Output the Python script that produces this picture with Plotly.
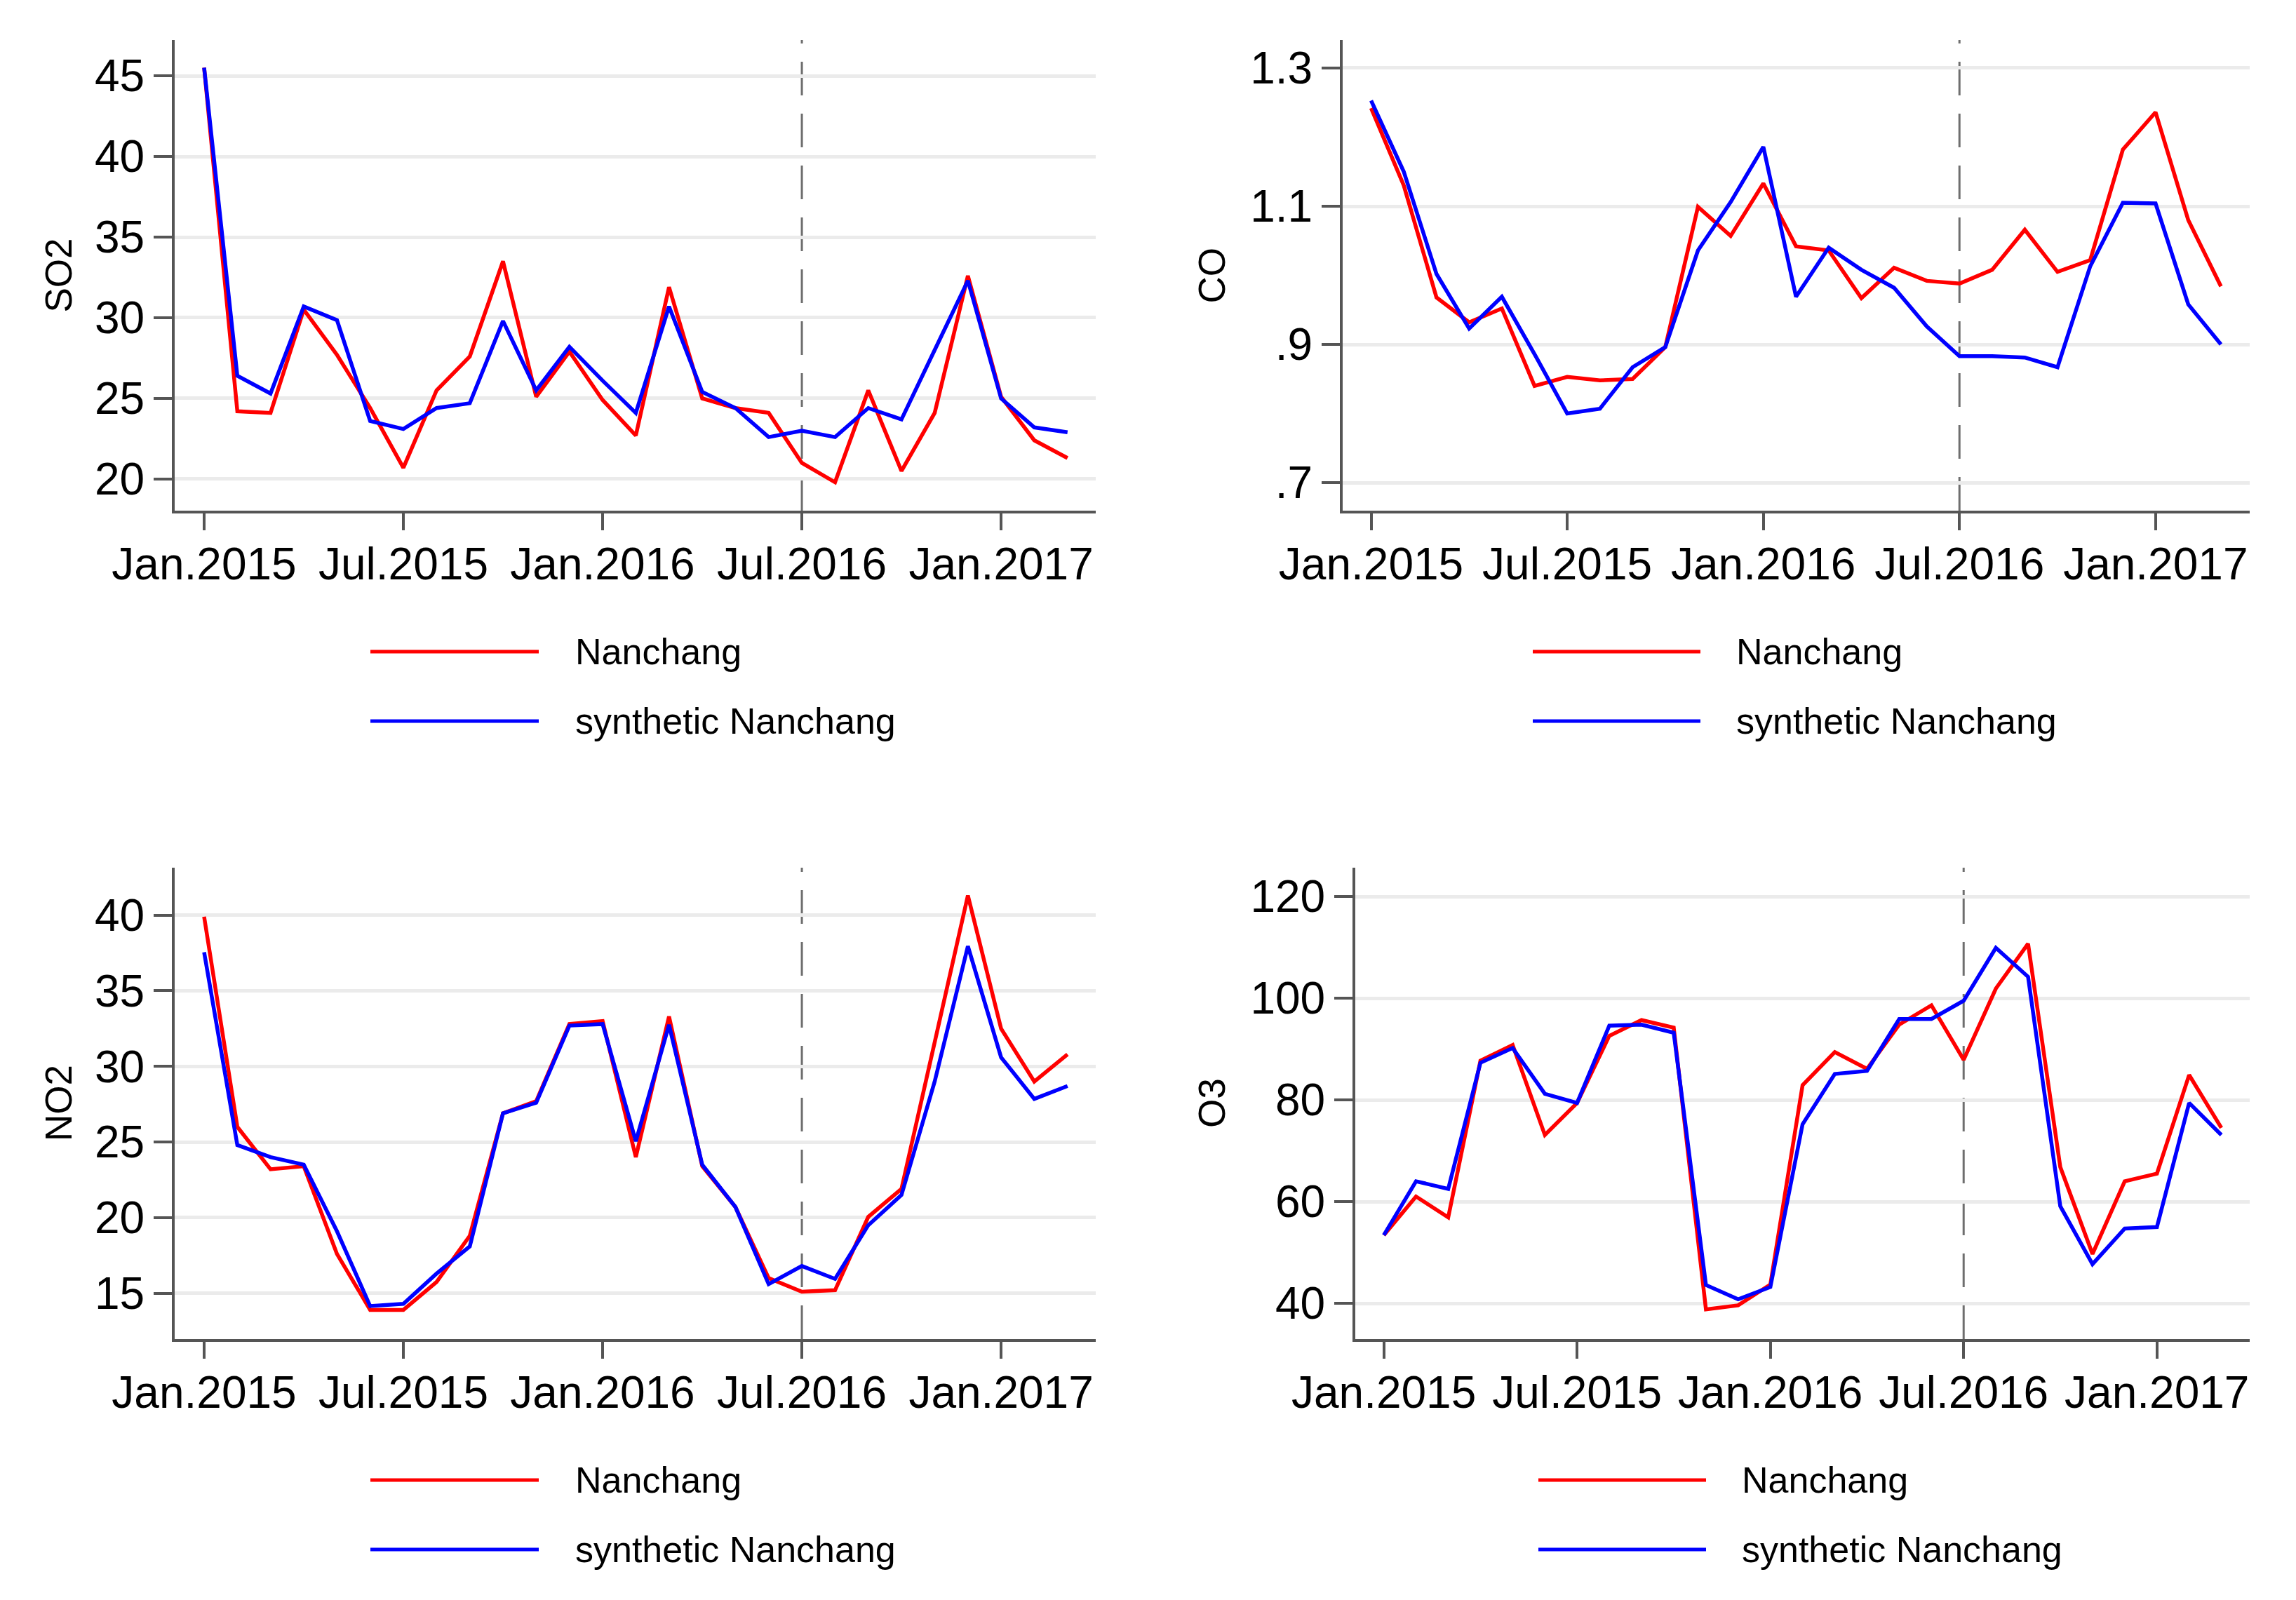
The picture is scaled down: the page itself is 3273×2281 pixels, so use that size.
import plotly.graph_objects as go

# target picture size and page offset (default body margin of the html page)
W_PIC, H_PIC = 3273, 2281
OFF = 8
W, H = W_PIC - 2 * OFF, H_PIC - 2 * OFF

# ---------------- data ----------------
months = ["2015-01", "2015-02", "2015-03", "2015-04", "2015-05", "2015-06",
          "2015-07", "2015-08", "2015-09", "2015-10", "2015-11", "2015-12",
          "2016-01", "2016-02", "2016-03", "2016-04", "2016-05", "2016-06",
          "2016-07", "2016-08", "2016-09", "2016-10", "2016-11", "2016-12",
          "2017-01", "2017-02", "2017-03"]
x_tickvals_idx = [0, 6, 12, 18, 24]
x_ticklabels = ["Jan.2015", "Jul.2015", "Jan.2016", "Jul.2016", "Jan.2017"]
treatment_month = "2016-07"

so2_nanchang = [45.5, 24.2, 24.1, 30.5, 27.7, 24.4, 20.7, 25.5, 27.6, 33.5, 25.1, 27.9, 24.9, 22.7,
                31.9, 25.0, 24.4, 24.1, 21.0, 19.8, 25.5, 20.5, 24.1, 32.6, 25.1, 22.4, 21.3]
so2_synth = [45.5, 26.4, 25.3, 30.7, 29.85, 23.6, 23.1, 24.4, 24.7, 29.8, 25.5, 28.2, 26.1, 24.1,
             30.7, 25.4, 24.4, 22.6, 23.0, 22.6, 24.4, 23.7, 28.0, 32.3, 25.0, 23.2, 22.9]

co_nanchang = [1.242, 1.130, 0.968, 0.932, 0.952, 0.840, 0.853, 0.848, 0.850, 0.896, 1.099, 1.057,
               1.133, 1.042, 1.036, 0.967, 1.011, 0.992, 0.988, 1.008, 1.066, 1.005, 1.022, 1.182,
               1.236, 1.080, 0.984]
co_synth = [1.253, 1.150, 1.002, 0.923, 0.969, 0.886, 0.800, 0.807, 0.867, 0.896, 1.036, 1.106,
            1.186, 0.969, 1.040, 1.008, 0.982, 0.926, 0.883, 0.883, 0.881, 0.867, 1.013, 1.105,
            1.104, 0.958, 0.900]

no2_nanchang = [39.9, 26.0, 23.2, 23.4, 17.6, 13.9, 13.9, 15.75, 18.8, 26.9, 27.7, 32.8, 33.0, 24.0,
                33.3, 23.4, 20.7, 16.0, 15.1, 15.2, 20.05, 21.9, 31.6, 41.3, 32.5, 29.0, 30.8]
no2_synth = [37.55, 24.8, 24.0, 23.5, 19.1, 14.15, 14.3, 16.3, 18.1, 26.9, 27.6, 32.7, 32.8, 25.05,
             32.75, 23.5, 20.7, 15.6, 16.8, 15.95, 19.5, 21.5, 29.0, 37.95, 30.6, 27.85, 28.7]

o3_nanchang = [53.4, 61.0, 56.9, 87.7, 90.8, 73.1, 79.4, 92.6, 95.7, 94.2, 38.8, 39.6, 43.7, 82.9,
               89.4, 86.1, 94.8, 98.6, 87.9, 101.9, 110.7, 66.8, 49.7, 64.0, 65.5, 84.9, 74.5]
o3_synth = [53.4, 64.0, 62.5, 87.3, 90.2, 81.2, 79.4, 94.6, 94.8, 93.2, 43.6, 40.8, 43.2, 75.2,
            85.1, 85.7, 95.9, 95.9, 99.5, 109.9, 104.2, 59.1, 47.7, 54.7, 55.0, 79.4, 73.1]

so2_ticks = [20, 25, 30, 35, 40, 45]
so2_ticklabels = ["20", "25", "30", "35", "40", "45"]
co_ticks = [0.7, 0.9, 1.1, 1.3]
co_ticklabels = [".7", ".9", "1.1", "1.3"]
no2_ticks = [15, 20, 25, 30, 35, 40]
no2_ticklabels = ["15", "20", "25", "30", "35", "40"]
o3_ticks = [40, 60, 80, 100, 120]
o3_ticklabels = ["40", "60", "80", "100", "120"]

series_names = ["Nanchang", "synthetic Nanchang"]

# ---------------- styling / layout ----------------
RED = "#FF0000"
BLUE = "#0000FF"
AX = "#555555"
GRID = "#EBEBEB"
FONT = "Liberation Sans, Arial, sans-serif"

def px_x(p):
    return (p - OFF) / W

def px_y(p):
    return 1 - (p - OFF) / H

x_idx = list(range(len(months)))
t_idx = months.index(treatment_month)

panels = [
    dict(title="SO2", y1=so2_nanchang, y2=so2_synth, tv=so2_ticks, tt=so2_ticklabels,
         yr=[18.04, 47.22], xd=(249, 1562), yd=(57, 728), xr=[-0.887, 26.85], tx=83,
         leg=dict(x0=528, x1=768, xt=818, r1=929, r2=1028)),
    dict(title="CO", y1=co_nanchang, y2=co_synth, tv=co_ticks, tt=co_ticklabels,
         yr=[0.6594, 1.3406], xd=(1914, 3207), yd=(57, 728), xr=[-0.87, 26.88], tx=1727,
         leg=dict(x0=2185, x1=2424, xt=2473, r1=929, r2=1028)),
    dict(title="NO2", y1=no2_nanchang, y2=no2_synth, tv=no2_ticks, tt=no2_ticklabels,
         yr=[11.97, 43.14], xd=(249, 1562), yd=(1237, 1909), xr=[-0.887, 26.85], tx=83,
         leg=dict(x0=528, x1=768, xt=818, r1=2110, r2=2209)),
    dict(title="O3", y1=o3_nanchang, y2=o3_synth, tv=o3_ticks, tt=o3_ticklabels,
         yr=[32.97, 125.66], xd=(1932, 3207), yd=(1237, 1909), xr=[-0.885, 26.88], tx=1727,
         leg=dict(x0=2193, x1=2432, xt=2481, r1=2110, r2=2209)),
]

fig = go.Figure()
layout = dict(
    width=W, height=H, autosize=False,
    margin=dict(l=0, r=0, t=0, b=0, pad=0, autoexpand=False),
    paper_bgcolor="white", plot_bgcolor="white",
    showlegend=False,
    font=dict(family=FONT, color="black"),
)
shapes = []
annotations = []

for k, p in enumerate(panels):
    n = "" if k == 0 else str(k + 1)
    xa, ya = "x" + n, "y" + n
    fig.add_trace(go.Scatter(x=x_idx, y=p["y1"], mode="lines", name=series_names[0],
                             line=dict(color=RED, width=5.5), xaxis=xa, yaxis=ya))
    fig.add_trace(go.Scatter(x=x_idx, y=p["y2"], mode="lines", name=series_names[1],
                             line=dict(color=BLUE, width=5.5), xaxis=xa, yaxis=ya))
    layout["xaxis" + n] = dict(
        domain=[px_x(p["xd"][0]), px_x(p["xd"][1])], anchor=ya, range=p["xr"],
        tickmode="array", tickvals=x_tickvals_idx, ticktext=x_ticklabels,
        ticks="outside", ticklen=24, tickwidth=4, tickcolor=AX,
        showline=True, linecolor=AX, linewidth=4, showgrid=False, zeroline=False,
        tickfont=dict(size=64, family=FONT, color="black"), ticklabelstandoff=-7,
        automargin=False,
    )
    layout["yaxis" + n] = dict(
        domain=[px_y(p["yd"][1]), px_y(p["yd"][0])], anchor=xa, range=p["yr"],
        tickmode="array", tickvals=p["tv"], ticktext=p["tt"],
        ticks="outside", ticklen=26, tickwidth=4, tickcolor=AX,
        showline=True, linecolor=AX, linewidth=4,
        showgrid=True, gridcolor=GRID, gridwidth=5, zeroline=False,
        tickfont=dict(size=64, family=FONT, color="black"), ticklabelstandoff=0,
        automargin=False,
    )
    shapes.append(dict(type="line", xref=xa, yref=ya + " domain", x0=t_idx, x1=t_idx, y0=0, y1=1,
                       line=dict(color="#6e6e6e", width=3, dash="48px,26px"), layer="below"))
    annotations.append(dict(text=p["title"], xref="paper", yref="paper",
                            x=px_x(p["tx"]), y=px_y((p["yd"][0] + p["yd"][1]) / 2),
                            textangle=-90, showarrow=False, xanchor="center", yanchor="middle",
                            font=dict(size=53, family=FONT, color="black")))
    lg = p["leg"]
    for row, col, label in ((lg["r1"], RED, series_names[0]), (lg["r2"], BLUE, series_names[1])):
        shapes.append(dict(type="line", xref="paper", yref="paper",
                           x0=px_x(lg["x0"]), x1=px_x(lg["x1"]), y0=px_y(row), y1=px_y(row),
                           line=dict(color=col, width=5)))
        annotations.append(dict(text=label, xref="paper", yref="paper",
                                x=px_x(lg["xt"]), y=px_y(row), xanchor="left", yanchor="middle",
                                showarrow=False, font=dict(size=52, family=FONT, color="black")))

layout["shapes"] = shapes
layout["annotations"] = annotations
fig.update_layout(**layout)
fig.write_html("out.html")
